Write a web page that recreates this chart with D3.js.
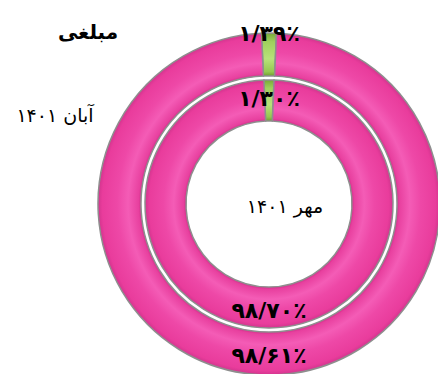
<!DOCTYPE html>
<html>
<head>
<meta charset="utf-8">
<script src="https://cdn.jsdelivr.net/npm/d3@7"></script>
<style>
  body { margin: 0; background: #fff; }
  text { font-family: "DejaVu Sans", sans-serif; }
</style>
</head>
<body>
<div id="chart"></div>
<script>
// data
var title = "مبلغی";
var ringNames = ["آبان ۱۴۰۱", "مهر ۱۴۰۱"];   // outer, inner
var outerValues = [1.39, 98.61];
var innerValues = [1.30, 98.70];
var sliceKinds = ["green", "pink"];

var width = 438, height = 374;
var cx = 269, cy = 204;

var svg = d3.select("#chart").append("svg")
    .attr("width", width)
    .attr("height", height);

var defs = svg.append("defs");

// persian digits
var faDigits = "۰۱۲۳۴۵۶۷۸۹";
function toFa(v) {
    return v.toFixed(2).replace(".", "/").replace(/[0-9]/g, function(c) {
        return faDigits[+c];
    }) + "٪";
}

// tube look colours across the band (t = 0 inner edge .. 1 outer edge)
var profiles = {
    pink: [[0, "#d2308a"], [0.06, "#e8409f"], [0.3, "#f45cb6"], [0.55, "#ee48a7"], [0.9, "#e93c9c"], [1, "#d2358e"]],
    green: [[0, "#6f9e2f"], [0.1, "#95c750"], [0.4, "#b8e27a"], [0.8, "#9fd05c"], [1, "#78a937"]]
};

var rings = [
    { name: ringNames[0], values: outerValues, r0: 128, r1: 171, labelR: [171, 151] },
    { name: ringNames[1], values: innerValues, r0: 83, r1: 124, labelR: [106, 106] }
];

var g = svg.append("g").attr("transform", "translate(" + cx + "," + cy + ")");

rings.forEach(function(ring, ri) {
    // gradients for this ring
    sliceKinds.forEach(function(kind) {
        var grad = defs.append("radialGradient")
            .attr("id", "grad-" + ri + "-" + kind)
            .attr("gradientUnits", "userSpaceOnUse")
            .attr("cx", 0).attr("cy", 0).attr("r", ring.r1);
        profiles[kind].forEach(function(s) {
            grad.append("stop")
                .attr("offset", (ring.r0 + s[0] * (ring.r1 - ring.r0)) / ring.r1)
                .attr("stop-color", s[1]);
        });
    });

    var total = d3.sum(ring.values);
    var start = -Math.PI * ring.values[0] / total;   // small slice centred on top
    var pie = d3.pie().sort(null)
        .startAngle(start)
        .endAngle(start + 2 * Math.PI);

    var arc = d3.arc().innerRadius(ring.r0).outerRadius(ring.r1);

    var arcs = pie(ring.values);

    g.selectAll(".slice-" + ri)
        .data(arcs)
        .enter().append("path")
        .attr("class", "slice-" + ri)
        .attr("d", arc)
        .style("fill", function(d, i) { return "url(#grad-" + ri + "-" + sliceKinds[i] + ")"; })
        .style("stroke", "#8e8e8e")
        .style("stroke-width", 1.5);

    g.selectAll(".label-" + ri)
        .data(arcs)
        .enter().append("text")
        .attr("class", "label-" + ri)
        .attr("transform", function(d, i) {
            var la = d3.arc().innerRadius(ring.labelR[i]).outerRadius(ring.labelR[i]);
            return "translate(" + la.centroid(d) + ")";
        })
        .attr("dy", "0.35em")
        .attr("text-anchor", "middle")
        .style("font-size", "22px")
        .style("font-weight", "bold")
        .attr("fill", "#000")
        .text(function(d) { return toFa(d.data); });
});

// titles
svg.append("text")
    .attr("x", 88).attr("y", 39)
    .attr("text-anchor", "middle")
    .style("font-size", "20px")
    .style("font-weight", "bold")
    .text(title);

svg.append("text")
    .attr("x", 55).attr("y", 122)
    .attr("text-anchor", "middle")
    .style("font-size", "19px")
    .text(rings[0].name);

svg.append("text")
    .attr("x", 285).attr("y", 213)
    .attr("text-anchor", "middle")
    .style("font-size", "19px")
    .text(rings[1].name);
</script>
</body>
</html>
